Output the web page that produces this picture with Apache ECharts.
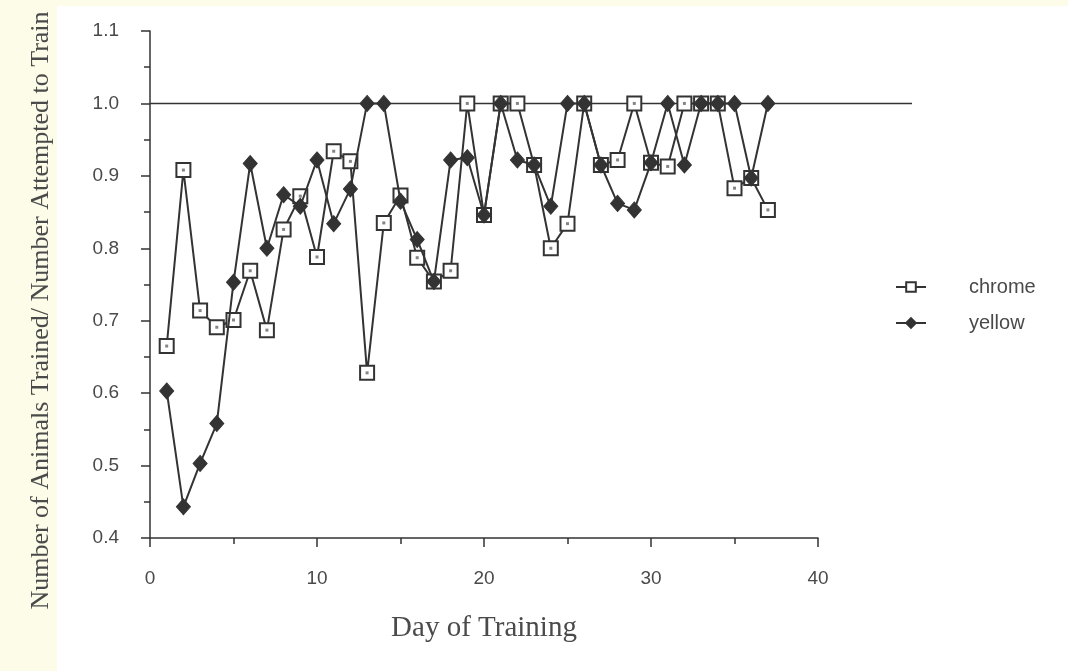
<!DOCTYPE html>
<html>
<head>
<meta charset="utf-8">
<script src="https://cdn.jsdelivr.net/npm/echarts@6/dist/echarts.min.js"></script>
<style>
  html, body { margin: 0; padding: 0; width: 1068px; height: 671px; overflow: hidden; background: #fdfce9; }
  #paper { position: absolute; left: 57px; top: 6px; right: 0; bottom: 0; background: #ffffff; }
  #chart { position: absolute; left: 0; top: 0; width: 1068px; height: 671px; }
</style>
</head>
<body>
<div id="paper"></div>
<div id="chart"></div>
<script>
// ---- data ----
const days = [1,2,3,4,5,6,7,8,9,10,11,12,13,14,15,16,17,18,19,20,21,22,23,24,25,26,27,28,29,30,31,32,33,34,35,36,37];
const chrome = [0.665,0.908,0.714,0.691,0.701,0.769,0.687,0.826,0.872,0.788,0.934,0.920,0.628,0.835,0.873,0.787,0.754,0.769,1.0,0.846,1.0,1.0,0.915,0.800,0.834,1.0,0.915,0.922,1.0,0.918,0.913,1.0,1.0,1.0,0.883,0.897,0.853];
const yellow = [0.603,0.443,0.503,0.558,0.753,0.917,0.800,0.874,0.858,0.922,0.834,0.882,1.0,1.0,0.865,0.812,0.754,0.922,0.925,0.846,1.0,0.922,0.915,0.858,1.0,1.0,0.915,0.862,0.853,0.918,1.0,0.915,1.0,1.0,1.0,0.897,1.0];
const referenceLevel = 1.0;
const xTicks = [0, 10, 20, 30, 40];
const yTicks = [0.4, 0.5, 0.6, 0.7, 0.8, 0.9, 1.0, 1.1];

const ink = '#333333';
const textInk = '#4a4a4a';
const chromeData = days.map((d, i) => [d, chrome[i]]);
const yellowData = days.map((d, i) => [d, yellow[i]]);

const chart = echarts.init(document.getElementById('chart'), null, { renderer: 'canvas' });
chart.setOption({
  backgroundColor: 'transparent',
  animation: false,
  grid: [
    { left: 150, right: 250, top: 31, bottom: 133 },
    { left: 150, right: 156, top: 31, bottom: 133 }
  ],
  legend: {
    data: ['chrome', 'yellow'],
    orient: 'vertical',
    left: 890,
    top: 272,
    itemWidth: 30,
    itemHeight: 12,
    itemGap: 16,
    textStyle: { fontFamily: 'Liberation Sans, Arial, sans-serif', fontSize: 20, color: textInk, padding: [0, 0, 0, 38] }
  },
  xAxis: [
    {
      gridIndex: 0, type: 'value', min: xTicks[0], max: xTicks[xTicks.length - 1], interval: 10,
      name: 'Day of Training', nameLocation: 'middle', nameGap: 76,
      nameTextStyle: { fontFamily: 'Liberation Serif, Times New Roman, serif', fontSize: 29, color: textInk },
      axisLine: { show: true, onZero: false, lineStyle: { color: ink, width: 1.5 } },
      axisTick: { show: true, inside: false, length: 9, lineStyle: { color: ink, width: 1.5 } },
      minorTick: { show: true, splitNumber: 2, length: 6, lineStyle: { color: ink, width: 1.5 } },
      splitLine: { show: false },
      axisLabel: { margin: 31, fontFamily: 'Liberation Sans, Arial, sans-serif', fontSize: 19, color: textInk }
    },
    { gridIndex: 1, type: 'value', min: 0, max: 1, show: false }
  ],
  yAxis: [
    {
      gridIndex: 0, type: 'value', min: yTicks[0], max: yTicks[yTicks.length - 1], interval: 0.1,
      name: 'Number of Animals Trained/ Number Attempted to Train', nameLocation: 'middle', nameGap: 96,
      nameTextStyle: { fontFamily: 'Liberation Serif, Times New Roman, serif', fontSize: 26, color: textInk,
                       padding: [0, 52, 0, 0] },
      axisLine: { show: true, onZero: false, lineStyle: { color: ink, width: 1.5 } },
      axisTick: { show: true, inside: false, length: 9, lineStyle: { color: ink, width: 1.5 } },
      minorTick: { show: true, splitNumber: 2, length: 6, lineStyle: { color: ink, width: 1.5 } },
      splitLine: { show: false },
      axisLabel: { margin: 31, fontFamily: 'Liberation Sans, Arial, sans-serif', fontSize: 19, color: textInk,
                   formatter: v => v.toFixed(1) }
    },
    { gridIndex: 1, type: 'value', min: yTicks[0], max: yTicks[yTicks.length - 1], show: false }
  ],
  series: [
    {
      name: 'reference', type: 'line', xAxisIndex: 1, yAxisIndex: 1,
      data: [[0, referenceLevel], [1, referenceLevel]],
      symbol: 'none', silent: true, lineStyle: { color: ink, width: 1.5 }, z: 1
    },
    {
      name: 'chrome', type: 'line', data: chromeData,
      symbol: 'rect', symbolSize: 14,
      itemStyle: { color: '#ffffff', borderColor: ink, borderWidth: 2 },
      lineStyle: { color: ink, width: 2 }, z: 2
    },
    {
      name: 'chrome-center', type: 'scatter', data: chromeData,
      symbol: 'rect', symbolSize: 3, itemStyle: { color: '#666666' }, silent: true, z: 3
    },
    {
      name: 'yellow', type: 'line', data: yellowData,
      symbol: 'diamond', symbolSize: [14, 16],
      itemStyle: { color: ink, borderColor: ink, borderWidth: 1 },
      lineStyle: { color: ink, width: 2 }, z: 4
    }
  ]
});
</script>
</body>
</html>
